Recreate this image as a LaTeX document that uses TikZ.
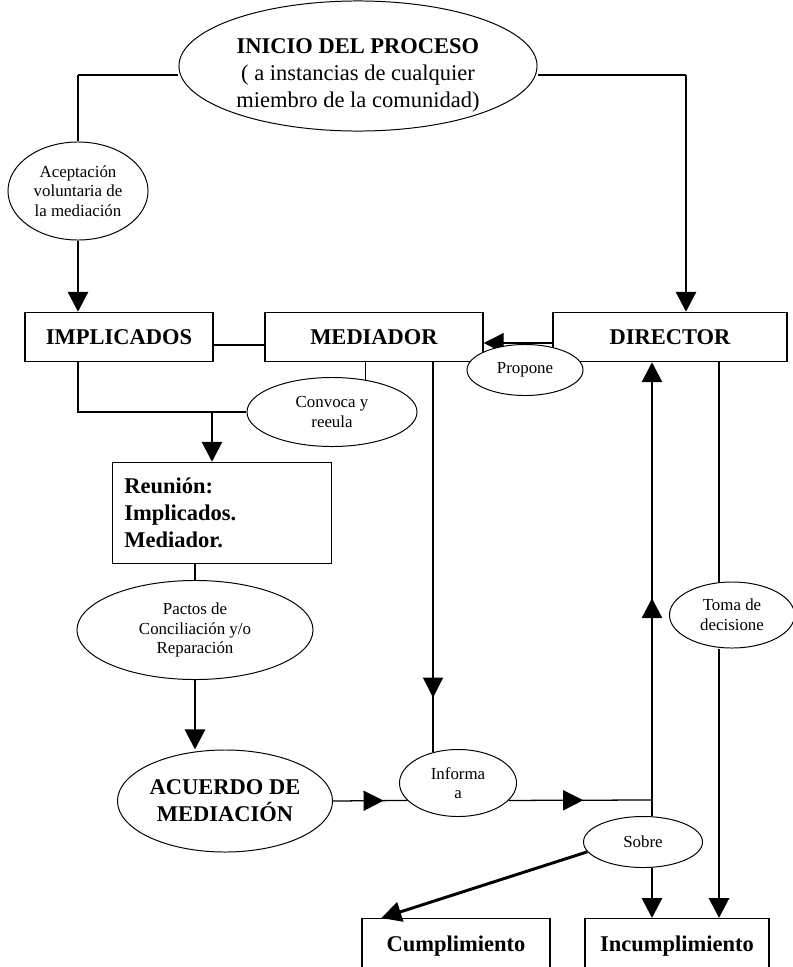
\documentclass[tikz,border=0pt]{standalone}
\usepackage{fontspec}
\setmainfont{Liberation Serif}
\usepackage{tikz}
\usetikzlibrary{positioning,shapes.geometric,arrows.meta,decorations.markings}
\newcommand{\bigtext}{\fontsize{16}{19}\selectfont}
\newcommand{\bigbold}{\fontsize{16}{19}\selectfont\bfseries}
\newcommand{\smalltext}{\fontsize{12}{14}\selectfont}
\tikzset{
  box/.style={draw, line width=1pt, rectangle, inner sep=0pt, align=center, font=\bigbold},
  bubble/.style={draw, line width=0.7pt, ellipse, inner sep=0pt, align=center, fill=white, font=\smalltext},
  wire/.style={line width=0.9pt},
  heavy/.style={line width=2.1pt},
  arrowed/.style={-{Triangle[length=5mm,width=5mm]}},
  midtip/.style={postaction={decorate}, decoration={markings, mark=at position #1 with {\arrow{Triangle[length=5mm,width=5mm]}}}}
}

\begin{document}
\begin{tikzpicture}[x=0.025cm, y=-0.025cm]
  \useasboundingbox (0,0) rectangle (793,967);
  \clip (0,0) rectangle (793,967);

  \node[bubble, minimum width=8.95cm, minimum height=3cm, font=\bigtext] (inicio) at (358,66) {\rule{0pt}{24pt}{\bfseries INICIO DEL PROCESO}\\( a instancias de cualquier\\miembro de la comunidad)};
  \node[bubble, minimum width=3.5cm, minimum height=2.45cm] (acept) at (78,191) {Aceptación\\voluntaria de\\la mediación};

  \node[box, minimum width=4.7cm, minimum height=1.225cm] (impl) at (119,337) {IMPLICADOS};
  \node[box, minimum width=5.45cm, minimum height=1.225cm] (medi) at (374,337) {MEDIADOR};
  \node[box, minimum width=5.85cm, minimum height=1.225cm] (dire) at (670,337) {DIRECTOR};

  \draw[wire, arrowed] (dire.west |- 0,343) -- (medi.east |- 0,343);
  \node[bubble, minimum width=2.9cm, minimum height=1.275cm] (propone) at (525,370) {Propone};

  \node[bubble, minimum width=4.25cm, minimum height=1.725cm] (convoca) at (332,412) {Convoca y\\reeula};
  \node[box, minimum width=5.475cm, minimum height=2.525cm, text width=4.875cm, align=left] (reunion) at (222,513) {Reunión:\\Implicados.\\Mediador.};
  \node[bubble, minimum width=5.9cm, minimum height=2.475cm] (pactos) at (195,630) {Pactos de\\Conciliación y/o\\Reparación};
  \node[bubble, minimum width=5.375cm, minimum height=2.55cm, font=\bigbold] (acuerdo) at (225,801) {ACUERDO DE\\MEDIACIÓN};
  \node[bubble, minimum width=2.925cm, minimum height=1.675cm] (informa) at (458,783) {Informa\\a};
  \node[bubble, minimum width=2.975cm, minimum height=1.275cm] (sobre) at (643,842) {Sobre};
  \node[bubble, minimum width=3.125cm, minimum height=1.65cm] (toma) at (732,615) {Toma de\\decisione};

  \node[box, anchor=north, minimum width=4.7cm, minimum height=1.35cm] (cumpl) at (456,918) {Cumplimiento};
  \node[box, anchor=north, minimum width=4.6cm, minimum height=1.35cm] (incum) at (677,918) {Incumplimiento};

  % inicio
  \coordinate (tl) at (78,75);
  \coordinate (tr) at (686,75);
  \draw[wire] (inicio.west |- tl) -- (tl);
  \draw[heavy] (tl) -- (acept.north);
  \draw[heavy, arrowed] (acept.south) -- (acept.south |- impl.north);
  \draw[wire] (inicio.east |- tr) -- (tr);
  \draw[heavy, arrowed] (tr) -- (tr |- dire.north);

  % reunion
  \coordinate (split) at (212,412);
  \draw[wire] (impl.east |- 0,345) -- (medi.west |- 0,345);
  \draw[wire] (impl.south -| tl) |- (convoca.west);
  \draw[wire] (medi.south -| convoca.44) -- (convoca.44);
  \draw[heavy, arrowed] (split) -- (split |- reunion.north);
  \draw[wire] (pactos.north |- reunion.south) -- (pactos.north);
  \draw[heavy, arrowed] (pactos.south) -- (pactos.south |- acuerdo.north);

  % informa
  \coordinate (junc) at (652,800);
  \coordinate (rx) at (719,0);
  \draw[wire, midtip=0.68] (acuerdo.east) -- (informa.199);
  \draw[wire, midtip=0.52] (informa.-19) -- (junc);
  \draw[wire, midtip=0.86] (medi.south -| informa.129.5) -- (informa.129.5);
  \draw[heavy, arrowed, midtip=0.48] (sobre.north -| junc) -- (dire.south -| junc);
  \draw[heavy, arrowed] (sobre.south -| junc) -- (junc |- incum.north);
  \draw[heavy] (dire.south -| rx) -- (rx |- toma.north);
  \draw[heavy, arrowed] (rx |- toma.south) -- (rx |- incum.north);
  \draw[heavy, arrowed] (sobre.190) -- ([xshift=5mm]cumpl.north west);
\end{tikzpicture}
\end{document}
